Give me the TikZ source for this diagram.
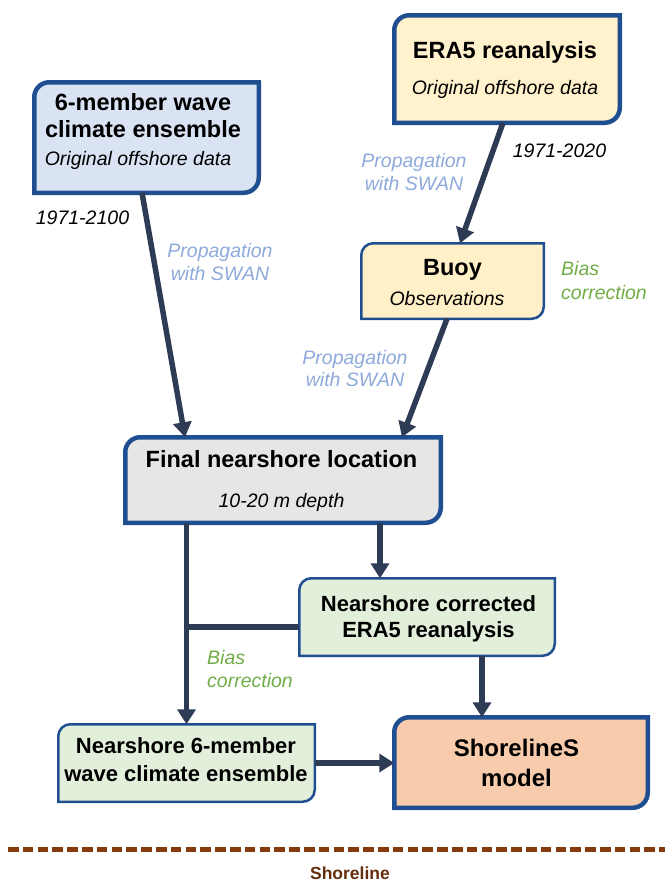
\documentclass[tikz,border=0pt]{standalone}
\usepackage{fontspec}
\setmainfont{Liberation Sans}
\usetikzlibrary{arrows.meta}
\definecolor{bordblue}{RGB}{31,78,145}
\definecolor{arrowc}{RGB}{46,59,84}
\definecolor{fillA}{RGB}{218,227,243}
\definecolor{fillB}{RGB}{255,242,204}
\definecolor{fillC}{RGB}{255,240,200}
\definecolor{fillD}{RGB}{231,230,230}
\definecolor{fillE}{RGB}{226,239,218}
\definecolor{fillG}{RGB}{248,203,173}
\definecolor{lblue}{RGB}{142,169,219}
\definecolor{lgreen}{RGB}{112,173,71}
\definecolor{brownc}{RGB}{132,60,12}
\definecolor{browntext}{RGB}{100,45,12}
\newcommand\DiagBox[3]{%
  \draw[#2] (#1.south west) -- ([yshift=-#3]#1.north west)
    arc[start angle=180,end angle=90,radius=#3] -- (#1.north east)
    -- ([yshift=#3]#1.south east)
    arc[start angle=0,end angle=-90,radius=#3] -- cycle;}
\tikzset{
  boxnode/.style={draw=none,inner sep=0pt,outer sep=0pt},
  thickbox/.style={draw=bordblue,line width=4.5pt},
  thinbox/.style={draw=bordblue,line width=2.5pt},
  titletext/.style={font=\bfseries\fontsize{23.5}{27}\selectfont,anchor=base,inner sep=0pt},
  subtext/.style={font=\itshape\fontsize{19.5}{23}\selectfont,anchor=base,inner sep=0pt},
  neartext/.style={font=\bfseries\fontsize{22}{26}\selectfont,anchor=base,inner sep=0pt},
  modeltext/.style={font=\bfseries\fontsize{24}{28}\selectfont,anchor=base,inner sep=0pt},
  lbltext/.style={font=\itshape\fontsize{19.5}{23}\selectfont,anchor=base,inner sep=0pt},
  conn/.style={draw=arrowc,line width=5.5pt,-{Triangle[width=18pt,length=15pt]}},
  joinline/.style={draw=arrowc,line width=5.5pt},
  shoreline/.style={draw=brownc,line width=5pt,dash pattern=on 10.5pt off 4.3pt}
}
\begin{document}
\begin{tikzpicture}[x=1pt,y=-1pt]
\useasboundingbox (0,0) rectangle (665,884);
% boxes
\node[boxnode,minimum width=224.5pt,minimum height=110.5pt] (A) at (146.5,137.5) {};
\DiagBox{A}{thickbox,fill=fillA}{15pt}
\node[boxnode,minimum width=225.5pt,minimum height=107.5pt] (B) at (507,69) {};
\DiagBox{B}{thickbox,fill=fillB}{15pt}
\node[boxnode,minimum width=182.5pt,minimum height=75.5pt] (C) at (452.5,281) {};
\DiagBox{C}{thinbox,fill=fillC}{12pt}
\node[boxnode,minimum width=315.5pt,minimum height=85.5pt] (D) at (283,480) {};
\DiagBox{D}{thickbox,fill=fillD}{15pt}
\node[boxnode,minimum width=255.5pt,minimum height=77.5pt] (E) at (427,617) {};
\DiagBox{E}{thinbox,fill=fillE}{12pt}
\node[boxnode,minimum width=256.5pt,minimum height=77.5pt] (F) at (186.5,763) {};
\DiagBox{F}{thinbox,fill=fillE}{12pt}
\node[boxnode,minimum width=253.5pt,minimum height=90.5pt] (G) at (521,762.5) {};
\DiagBox{G}{thickbox,fill=fillG}{15pt}
% box texts
\node[titletext] (A1) at (143,110.5) {6-member wave};
\node[titletext] (A2) at (143,137.5) {climate ensemble};
\node[subtext] (A3) at (138,165) {Original offshore data};
\node[titletext] (B1) at (505,58.5) {ERA5 reanalysis};
\node[subtext] (B2) at (505,94) {Original offshore data};
\node[titletext] (C1) at (452.5,275.5) {Buoy};
\node[subtext] (C2) at (447,305) {Observations};
\node[titletext] (D1) at (281.5,467.5) {Final nearshore location};
\node[subtext] (D2) at (281.5,507) {10-20 m depth};
\node[neartext] (E1) at (428.5,611) {Nearshore corrected};
\node[neartext] (E2) at (428.5,637) {ERA5 reanalysis};
\node[neartext] (F1) at (186,753) {Nearshore 6-member};
\node[neartext] (F2) at (186,781) {wave climate ensemble};
\node[modeltext] (G1) at (516.5,756.6) {ShorelineS};
\node[modeltext] (G2) at (516.5,786.6) {model};
% labels
\node[lbltext] (y1) at (82.5,224) {1971-2100};
\node[lbltext,text=lblue] (p1a) at (220,257) {Propagation};
\node[lbltext,text=lblue] (p1b) at (220,280) {with SWAN};
\node[lbltext,text=lblue] (p2a) at (414,167) {Propagation};
\node[lbltext,text=lblue] (p2b) at (414,190) {with SWAN};
\node[lbltext] (y2) at (559.5,157) {1971-2020};
\node[lbltext,text=lgreen,anchor=base west] (b1a) at (561,275) {Bias};
\node[lbltext,text=lgreen,anchor=base west] (b1b) at (561,299) {correction};
\node[lbltext,text=lblue] (p3a) at (355,364) {Propagation};
\node[lbltext,text=lblue] (p3b) at (355,386) {with SWAN};
\node[lbltext,text=lgreen,anchor=base west] (b2a) at (207,664) {Bias};
\node[lbltext,text=lgreen,anchor=base west] (b2b) at (207,687) {correction};
% connectors
\draw[conn] ([xshift=-4.5pt]A.south) -- ([xshift=-98pt]D.north);
\draw[conn] ([xshift=-4pt]B.south) -- ([xshift=7.5pt]C.north);
\draw[conn] ([xshift=-5.5pt]C.south) -- ([xshift=119pt]D.north);
\draw[conn] (D.south -| F.north) -- (F.north);
\draw[conn] ([xshift=-47pt]E.north |- D.south) -- ([xshift=-47pt]E.north);
\coordinate (J) at (186.5,627);
\draw[joinline] (J -| E.west) -- (J);
\draw[conn] ([xshift=55pt]E.south) -- ([xshift=55pt]E.south |- G.north);
\draw[conn] (F.east) -- (F.east -| G.west);
% shoreline
\coordinate (SL) at (8,849);
\coordinate (SR) at (665,849);
\draw[shoreline] (SL) -- (SR);
\node[font=\bfseries\fontsize{17.5}{20}\selectfont,text=browntext,anchor=base,inner sep=0pt] (S) at (350,879) {Shoreline};
\end{tikzpicture}
\end{document}
